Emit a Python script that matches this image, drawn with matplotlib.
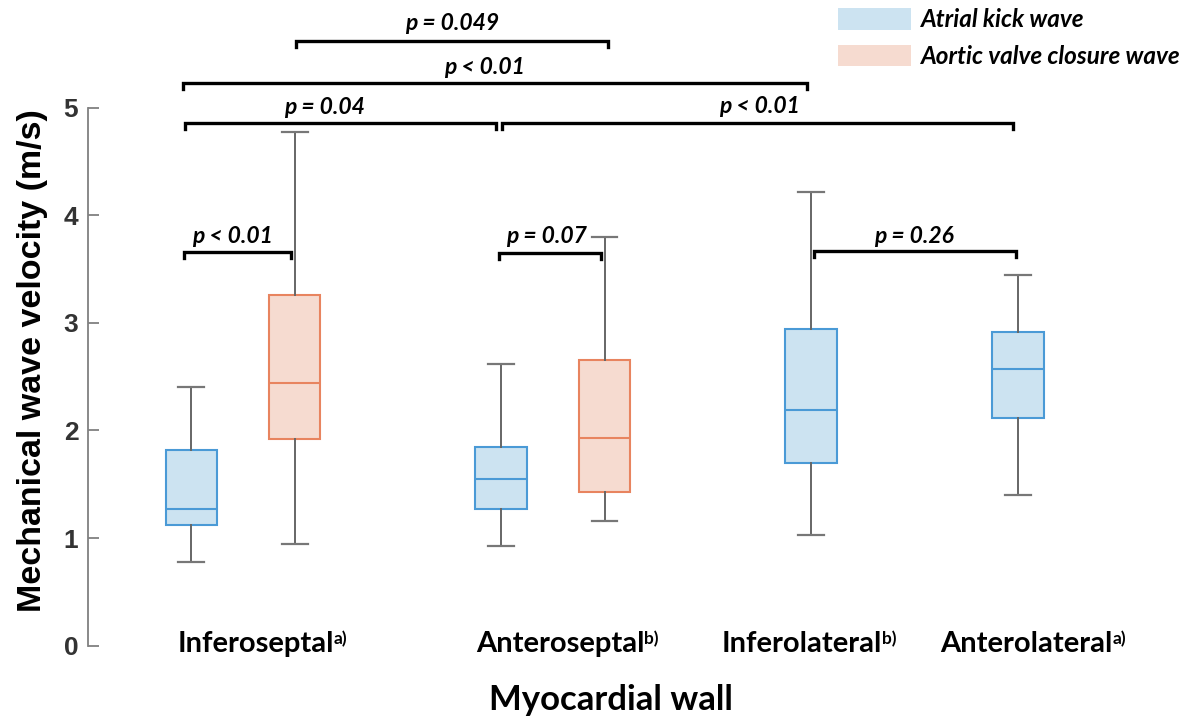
import matplotlib
matplotlib.use("Agg")
import matplotlib.pyplot as plt
from matplotlib.patches import Patch

# box statistics (m/s)
atrial_pos = [1, 4, 7, 9]
atrial_whislo = [0.78, 0.925, 1.03, 1.40]
atrial_q1 = [1.12, 1.27, 1.70, 2.12]
atrial_med = [1.27, 1.55, 2.19, 2.57]
atrial_q3 = [1.82, 1.85, 2.94, 2.91]
atrial_whishi = [2.40, 2.62, 4.22, 3.44]

aortic_pos = [2, 5]
aortic_whislo = [0.94, 1.16]
aortic_q1 = [1.92, 1.43]
aortic_med = [2.44, 1.93]
aortic_q3 = [3.26, 2.65]
aortic_whishi = [4.77, 3.80]

walls = ["Inferoseptal", "Anteroseptal", "Inferolateral", "Anterolateral"]
wall_notes = ["a)", "b)", "b)", "a)"]
wall_x = [1.62, 4.57, 6.91, 9.08]

# comparisons: (x from, x to, bracket height, label, label x, label y)
comparisons = [
    (0.93, 1.96, 3.66, "p < 0.01", 1.40, 3.80),
    (3.98, 4.97, 3.645, "p = 0.07", 4.44, 3.80),
    (7.03, 8.98, 3.67, "p = 0.26", 8.00, 3.80),
    (0.94, 3.95, 4.855, "p = 0.04", 2.29, 5.00),
    (4.01, 8.95, 4.855, "p < 0.01", 6.50, 5.01),
    (0.92, 6.96, 5.23, "p < 0.01", 3.84, 5.37),
    (2.01, 5.03, 5.62, "p = 0.049", 3.52, 5.78),
]

blue_fill, blue_edge = "#cce3f1", "#4a9ad6"
orng_fill, orng_edge = "#f6dbd0", "#e8845f"

fig = plt.figure(figsize=(11.9, 7.19), dpi=100)
ax = fig.add_axes([0.074, 0.102, 0.868, 0.7484])


def stats(lo, q1, med, q3, hi):
    return [dict(whislo=a, q1=b, med=c, q3=d, whishi=e, fliers=[])
            for a, b, c, d, e in zip(lo, q1, med, q3, hi)]


def draw(st, pos, fill, edge):
    ax.bxp(st, positions=pos, widths=0.5, patch_artist=True, showfliers=False,
           boxprops=dict(facecolor=fill, edgecolor=edge, linewidth=1.5),
           medianprops=dict(color=edge, linewidth=1.5),
           whiskerprops=dict(color="#666666", linewidth=1.4),
           capprops=dict(color="#777777", linewidth=1.6), capwidths=0.25)


draw(stats(atrial_whislo, atrial_q1, atrial_med, atrial_q3, atrial_whishi),
     atrial_pos, blue_fill, blue_edge)
draw(stats(aortic_whislo, aortic_q1, aortic_med, aortic_q3, aortic_whishi),
     aortic_pos, orng_fill, orng_edge)

ax.set_xlim(0, 10)
ax.set_ylim(0, 5)
for s in ["top", "right", "bottom"]:
    ax.spines[s].set_visible(False)
ax.spines["left"].set_color("#808080")
ax.spines["left"].set_linewidth(1.3)
ax.set_xticks([])
ax.set_yticks([0, 1, 2, 3, 4, 5])
ax.tick_params(axis="y", direction="in", length=8, width=1.3, color="#808080",
               pad=7, labelsize=19, labelcolor="#333333")
for t in ax.get_yticklabels():
    t.set_fontfamily("Liberation Sans")
    t.set_fontweight("bold")

# significance brackets
tk = 0.055
for x1, x2, y, lab, tx, ty in comparisons:
    ax.plot([x1, x1, x2, x2], [y - tk, y, y, y - tk], color="black", lw=2.4,
            clip_on=False, solid_joinstyle="miter")
    ax.text(tx, ty, lab, ha="center", va="center", fontsize=16.5,
            family="Lato", weight="bold", style="italic")

# wall labels with superscripts
for name, note, x in zip(walls, wall_notes, wall_x):
    t = ax.text(x, 0.02, name, ha="center", va="center", fontsize=21,
                family="Lato", weight="bold")
    ax.annotate(note, xy=(1, 1.0), xycoords=t, ha="left", va="top",
                fontsize=12.5, family="Lato", weight="bold")

fig.text(0.513, 0.026, "Myocardial wall", ha="center", va="center",
         fontsize=25, family="Lato", weight="bold")
fig.text(0.027, 0.499, "Mechanical wave velocity (m/s)", rotation=90,
         ha="center", va="center", fontsize=24.5, family="Liberation Sans",
         weight="bold")

handles = [Patch(facecolor=blue_fill, edgecolor="none"),
           Patch(facecolor=orng_fill, edgecolor="none")]
fig.legend(handles, ["Atrial kick wave", "Aortic valve closure wave"],
           loc="upper left", bbox_to_anchor=(838 / 1190, 1 - 8 / 719),
           frameon=False, borderpad=0, borderaxespad=0, handlelength=3.0,
           handleheight=1.0, handletextpad=0.4, labelspacing=0.55,
           prop=dict(family="Lato", weight="bold", style="italic", size=17.5))

fig.savefig("out.png", dpi=100)
